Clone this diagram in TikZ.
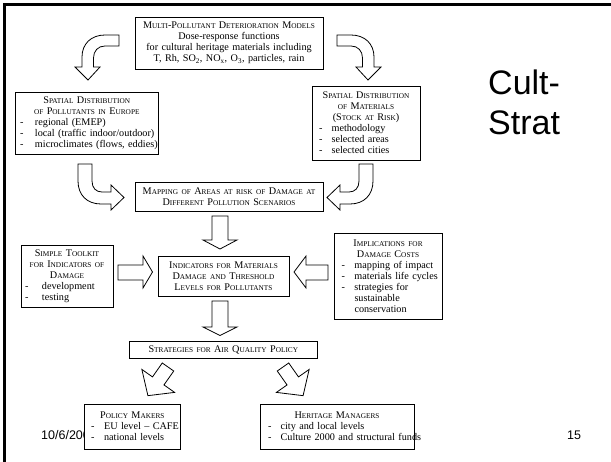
\documentclass[tikz,border=0pt]{standalone}
\usepackage{fontspec}
\setmainfont{Liberation Serif}
\newfontfamily\sansf{Liberation Sans}
\newcommand\fsc[1]{{\fontsize{7.3}{11}\selectfont #1}}
\newcommand\hdl[1]{\makebox[\linewidth][c]{#1}}
\newcommand\lit[2]{\mbox{\makebox[#1][l]{-}#2}}
\tikzset{
  bx/.style={draw=black, fill=white, line width=0.9pt, inner ysep=0pt, align=left,
    font=\fontsize{10.2}{11}\selectfont},
  blk/.style={draw=black, fill=white, line width=0.8pt, line join=miter},
  sanslbl/.style={anchor=base west, inner sep=0pt},
}
\begin{document}
\begin{tikzpicture}[x=1pt,y=-1pt]
\useasboundingbox (0,0) rectangle (611,462);
\fill[white] (0,0) rectangle (611,462);
\draw[line width=3pt] (4,462) -- (4,5) -- (611,5);

% title and footer
\node[sanslbl, font=\sansf\fontsize{34}{40}\selectfont] (title1) at (488,95) {Cult-};
\node[sanslbl, font=\sansf\fontsize{34}{40}\selectfont] (title2) at (488,135) {Strat};
\node[sanslbl, font=\sansf\fontsize{12.5}{14}\selectfont] (date) at (41,439) {10/6/2005};
\node[sanslbl, font=\sansf\fontsize{12.5}{14}\selectfont] (page) at (567,440) {15};

% boxes
\node[bx, inner xsep=4pt, text width=180pt, minimum height=52pt] (top) at (229,43) {%
\hdl{M\fsc{ULTI}-P\fsc{OLLUTANT} D\fsc{ETERIORATION} M\fsc{ODELS}}\\
\hdl{Dose-response functions}\\
\hdl{for cultural heritage materials including}\\
\hdl{T, Rh, SO\textsubscript{2}, NO\textsubscript{x}, O\textsubscript{3}, particles, rain}};

\node[bx, inner xsep=4.4pt, text width=133.6pt, minimum height=62pt] (pol) at (86.8,123) {%
\hdl{S\fsc{PATIAL} D\fsc{ISTRIBUTION}}\\
\hdl{\fsc{OF} P\fsc{OLLUTANTS IN} E\fsc{UROPE}}\\
\lit{15pt}{regional (EMEP)}\\
\lit{15pt}{local (traffic indoor/outdoor)}\\
\lit{15pt}{microclimates (flows, eddies)}};

\node[bx, inner xsep=7pt, text width=94pt, minimum height=74pt] (mat) at (366,123) {%
\hdl{S\fsc{PATIAL} D\fsc{ISTRIBUTION}}\\
\hdl{\fsc{OF} M\fsc{ATERIALS}}\\
\hdl{(S\fsc{TOCK AT} R\fsc{ISK})}\\
\lit{12.6pt}{methodology}\\
\lit{12.6pt}{selected areas}\\
\lit{12.6pt}{selected cities}};

\node[bx, inner xsep=4pt, text width=180pt, minimum height=29pt] (map) at (229,196.5) {%
\hdl{M\fsc{APPING OF} A\fsc{REAS AT RISK OF} D\fsc{AMAGE AT}}\\
\hdl{D\fsc{IFFERENT} P\fsc{OLLUTION} S\fsc{CENARIOS}}};

\node[bx, inner xsep=4pt, text width=123pt, minimum height=40pt] (ind) at (223.5,276) {%
\hdl{I\fsc{NDICATORS FOR} M\fsc{ATERIALS}}\\
\hdl{D\fsc{AMAGE AND} T\fsc{HRESHOLD}}\\
\hdl{L\fsc{EVELS FOR} P\fsc{OLLUTANTS}}};

\node[bx, inner xsep=4pt, text width=84pt, minimum height=62pt] (tool) at (67,276) {%
\hdl{S\fsc{IMPLE} T\fsc{OOLKIT}}\\
\hdl{\fsc{FOR} I\fsc{NDICATORS OF}}\\
\hdl{D\fsc{AMAGE}}\\
\lit{17pt}{development}\\
\lit{17pt}{testing}};

\node[bx, inner xsep=7.5pt, text width=93pt, minimum height=86pt] (imp) at (388,276) {%
\hdl{I\fsc{MPLICATIONS FOR}}\\
\hdl{D\fsc{AMAGE} C\fsc{OSTS}}\\
\lit{13pt}{mapping of impact}\\
\lit{13pt}{materials life cycles}\\
\lit{13pt}{strategies for}\\
\hspace*{13pt}sustainable\\
\hspace*{13pt}conservation};

\node[bx, inner xsep=4pt, text width=180.6pt, minimum height=16.5pt] (strat) at (223.3,350) {%
\hdl{S\fsc{TRATEGIES FOR} A\fsc{IR} Q\fsc{UALITY} P\fsc{OLICY}}};

\node[bx, inner xsep=7pt, text width=82.5pt, minimum height=45pt] (pm) at (132.3,426.5) {%
\hdl{P\fsc{OLICY} M\fsc{AKERS}}\\
\lit{13pt}{EU level -- CAFE}\\
\lit{13pt}{national levels}};

\node[bx, inner xsep=8pt, text width=138pt, minimum height=45pt] (hm) at (337,426.5) {%
\hdl{H\fsc{ERITAGE} M\fsc{ANAGERS}}\\
\lit{12.6pt}{city and local levels}\\
\lit{12.6pt}{Culture 2000 and structural funds}};

% curved block arrows (top)
\draw[blk] (119,35) -- (105,35) .. controls (91,35) and (82,44) .. (82,57) -- (82,67)
  -- (75,67) -- (88,80) -- (100,67) -- (93.5,67) -- (93.5,58)
  .. controls (93.5,51) and (98,46) .. (105,46) -- (119,46) -- cycle;
\draw[blk] (337,35) -- (351,35) .. controls (365,35) and (374,44) .. (374,57) -- (374,67)
  -- (381,67) -- (368,80) -- (356,67) -- (362.5,67) -- (362.5,58)
  .. controls (362.5,51) and (358,46) .. (351,46) -- (337,46) -- cycle;

% curved block arrows (to mapping)
\draw[blk] (78,164) -- (78,181) .. controls (78,195) and (87,204) .. (101,204) -- (111,204)
  -- (111,210) -- (124,197.5) -- (111,185) -- (111,192) -- (102,192)
  .. controls (96,192) and (92,188) .. (92,181) -- (92,164) -- cycle;
\draw[blk] (373,164) -- (373,181) .. controls (373,195) and (364,204) .. (350,204) -- (340,204)
  -- (340,210) -- (327,197.5) -- (340,185) -- (340,192) -- (349,192)
  .. controls (355,192) and (359,188) .. (359,181) -- (359,164) -- cycle;

% straight block arrows
\draw[blk] (212,216) -- (228,216) -- (228,240) -- (237,240) -- (220,249) -- (203,240) -- (212,240) -- cycle;
\draw[blk] (212,301) -- (228,301) -- (228,327) -- (237,327) -- (220,335.5) -- (203,327) -- (212,327) -- cycle;
\draw[blk] (118,265) -- (143,265) -- (143,256) -- (152.5,272) -- (143,288) -- (143,280) -- (118,280) -- cycle;
\draw[blk] (328,265) -- (306,265) -- (306,256) -- (294,272) -- (306,288) -- (306,280) -- (328,280) -- cycle;

% diagonal block arrows
\draw[blk] (162.27,362.98) -- (173.73,371.02) -- (163.97,384.94) -- (174.62,392.40)
  -- (147.91,395.66) -- (141.86,369.44) -- (152.51,376.90) -- cycle;
\draw[blk] (288.73,362.98) -- (277.27,371.02) -- (287.03,384.94) -- (276.38,392.40)
  -- (303.09,395.66) -- (309.14,369.44) -- (298.49,376.90) -- cycle;
\end{tikzpicture}
\end{document}
